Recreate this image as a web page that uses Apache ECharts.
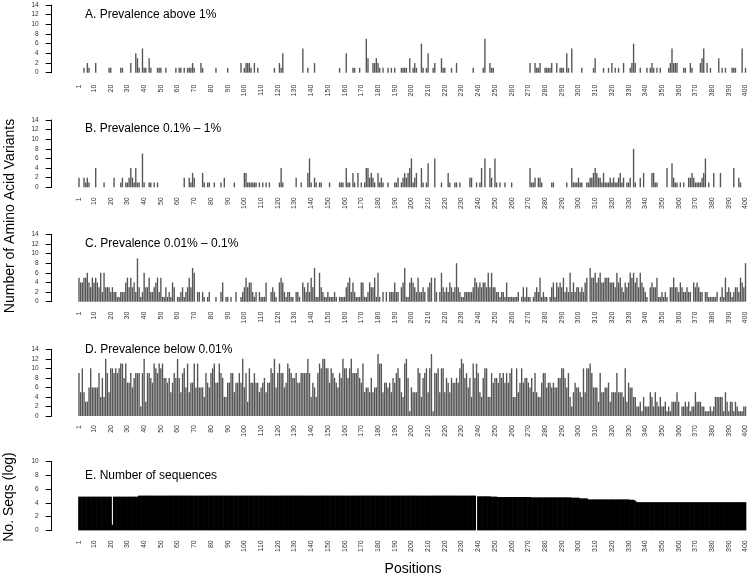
<!DOCTYPE html>
<html>
<head>
<meta charset="utf-8">
<script src="https://cdn.jsdelivr.net/npm/echarts@6/dist/echarts.min.js"></script>
<style>
  html, body { margin: 0; padding: 0; background: #fff; }
  #chart { width: 749px; height: 584px; }
</style>
</head>
<body>
<div id="chart"></div>
<script>
// positions 1..400 along the protein
const positions = Array.from({ length: 400 }, (_, i) => String(i + 1));
const xTickLabels = ['1','10','20','30','40','50','60','70','80','90','100','110','120','130','140','150','160','170','180','190','200',
  '210','220','230','240','250','260','270','280','290','300','310','320','330','340','350','360','370','380','390','400'];
const yTicksVariants = [0, 2, 4, 6, 8, 10, 12, 14];
const yTicksSeqs = [0, 2, 4, 6, 8, 10];

const panelTitles = ['A. Prevalence above 1%', 'B. Prevalence 0.1% \u2013 1%', 'C. Prevalence 0.01% \u2013 0.1%',
  'D. Prevalence below 0.01%', 'E. Number of sequences'];

// A. prevalence above 1%
const above1 = [].concat(
  [0,0,0,1,0,2,1,0,0,0,2,0,0,0,0,0,0,0,1,1],
  [0,0,0,0,0,1,1,0,0,0,0,2,0,0,4,3,1,0,5,1],
  [1,0,3,1,0,0,0,1,1,1,0,0,1,0,0,0,0,0,1,0],
  [1,1,0,1,0,1,1,1,2,1,0,0,0,2,1,0,0,0,0,0],
  [0,0,1,0,0,0,0,0,0,1,0,0,0,0,0,0,0,2,0,1],
  [2,2,2,1,0,2,0,1,0,0,0,0,0,0,0,0,0,1,0,0],
  [2,1,4,0,0,0,0,0,0,0,0,0,0,0,5,0,0,1,0,0],
  [0,2,0,0,0,0,0,0,0,0,0,0,0,0,0,0,1,0,0,0],
  [4,0,0,0,1,1,0,0,1,0,0,0,7,3,0,0,2,2,3,2],
  [1,0,1,0,0,1,0,1,0,1,0,0,0,1,1,1,1,0,3,0],
  [1,2,1,0,0,6,1,0,1,4,0,0,1,2,0,0,0,3,1,1],
  [0,0,0,1,0,0,2,0,0,0,0,0,0,0,0,0,1,0,0,0],
  [0,0,1,7,0,0,2,1,1,0,0,0,0,0,0,0,0,0,0,0],
  [0,0,0,0,0,0,0,0,0,0,2,0,0,2,1,1,2,0,0,1],
  [1,1,1,2,0,0,2,0,1,1,1,0,4,1,0,5,0,0,0,0],
  [0,1,0,0,0,0,0,0,1,3,0,0,0,0,1,0,0,1,0,2],
  [0,1,0,1,0,0,2,0,0,0,1,2,6,2,0,0,1,0,0,0],
  [1,0,1,2,1,0,1,0,1,0,0,0,0,1,2,5,2,2,2,0],
  [0,0,1,1,0,0,2,1,0,0,0,0,2,3,5,0,2,0,1,0],
  [0,0,0,3,0,1,0,1,0,0,0,1,1,1,0,0,0,5,0,1]
);

// B. prevalence 0.1% - 1%
const between01and1 = [].concat(
  [2,0,0,2,1,2,1,0,0,0,4,0,0,0,0,1,0,0,0,0],
  [0,2,0,0,0,1,2,0,1,1,2,4,2,1,4,1,1,0,7,1],
  [0,0,1,1,0,1,0,1,0,0,0,0,0,0,0,0,0,0,0,0],
  [0,0,0,2,0,0,2,1,3,2,0,0,0,0,3,1,0,1,1,0],
  [0,1,0,0,0,1,0,2,0,0,0,0,0,1,0,0,0,0,0,3],
  [3,1,1,1,1,1,1,0,1,0,1,0,1,0,1,0,0,0,0,0],
  [1,4,1,0,0,0,0,0,0,0,2,0,0,1,0,0,0,3,6,1],
  [0,2,1,0,1,1,0,0,0,0,1,0,0,0,0,0,1,1,1,0],
  [4,1,1,0,3,1,0,3,0,1,0,1,4,4,2,3,2,1,0,3],
  [1,2,1,0,0,1,0,0,0,1,1,2,0,1,2,3,2,3,4,6],
  [1,2,3,0,0,4,1,0,1,5,0,0,0,6,0,0,0,1,0,0],
  [0,3,1,0,0,1,1,0,1,0,0,0,0,0,2,2,0,0,1,0],
  [1,4,0,6,0,0,4,2,0,6,1,0,1,0,0,1,0,0,0,1],
  [0,0,0,0,0,0,0,0,0,0,4,1,1,2,0,2,2,1,0,0],
  [0,0,0,1,1,0,0,0,0,0,0,0,1,0,0,4,1,1,1,2],
  [1,1,0,0,1,1,2,2,3,4,3,2,2,1,3,1,1,1,2,1],
  [2,1,1,2,3,1,2,0,1,1,2,0,8,1,0,0,2,0,3,0],
  [0,0,0,3,3,1,1,0,0,0,0,0,4,0,0,5,2,1,1,0],
  [1,0,1,0,0,2,2,3,2,1,1,1,1,2,3,6,0,1,0,0],
  [3,0,0,0,3,0,0,0,0,0,0,0,4,0,0,2,1,0,0,0]
);

// C. prevalence 0.01% - 0.1%
const between001and01 = [].concat(
  [5,4,4,5,5,6,4,3,5,4,5,4,3,6,2,6,3,3,3,2],
  [3,2,2,1,1,2,2,2,4,5,3,5,3,4,2,9,3,1,2,6],
  [3,3,5,2,2,3,4,5,2,5,1,1,3,1,2,1,4,3,0,1],
  [1,2,3,1,2,3,5,3,7,6,0,2,2,0,2,1,0,1,2,0],
  [0,0,1,0,0,2,4,0,1,1,0,1,0,0,2,0,0,1,2,3],
  [5,3,4,4,2,1,2,0,2,1,1,1,4,0,0,2,3,2,1,0],
  [4,5,4,2,1,2,2,1,1,0,2,2,1,0,4,3,2,4,2,5],
  [3,7,1,1,6,3,2,1,1,2,1,1,1,2,1,0,1,1,1,1],
  [3,4,5,2,4,2,1,1,1,4,4,1,1,2,4,3,3,5,1,6],
  [1,0,2,0,2,0,2,2,2,4,2,2,0,3,4,7,1,1,4,5],
  [4,3,2,5,2,2,3,2,0,3,4,5,0,5,2,0,2,6,3,2],
  [3,2,4,3,2,3,8,3,2,1,1,2,2,2,2,2,3,5,4,3],
  [4,3,4,4,3,6,3,6,3,3,2,2,1,2,2,1,4,1,1,1],
  [1,1,1,2,0,1,3,1,3,1,1,0,1,2,3,2,5,1,2,1],
  [1,0,1,3,4,1,4,3,4,3,5,2,3,2,6,2,4,2,3,3],
  [2,3,2,4,5,0,7,5,5,6,4,5,6,4,4,5,5,5,4,4],
  [4,3,6,4,5,3,2,4,3,4,6,5,6,4,5,3,6,4,3,2],
  [1,0,3,4,3,3,5,1,1,2,1,2,1,0,3,3,5,3,3,2],
  [4,3,2,2,3,2,2,0,4,3,4,3,2,2,0,2,2,1,1,1],
  [1,1,2,0,1,3,1,5,2,3,2,1,2,3,3,2,5,4,3,8]
);

// D. prevalence below 0.01%
const below001 = [].concat(
  [9,5,10,5,3,3,6,10,6,6,6,6,9,4,8,4,12,9,5,10],
  [10,9,10,9,10,11,11,8,11,7,7,9,6,8,9,9,9,2,9,12],
  [3,9,9,8,7,11,10,9,11,10,11,8,8,7,8,5,7,9,8,12],
  [8,5,9,10,6,11,5,7,7,11,6,11,6,6,6,4,9,7,6,9],
  [10,11,7,7,11,9,8,4,4,7,7,9,9,5,7,7,9,7,12,6],
  [9,3,10,7,7,9,7,7,5,6,7,8,5,7,7,10,9,12,6,9],
  [11,9,9,6,7,11,10,9,8,8,9,7,7,9,9,9,9,12,9,4],
  [7,6,4,9,11,10,12,12,10,10,7,10,9,8,7,6,9,8,12,10],
  [10,8,10,12,9,9,9,10,8,7,11,5,6,6,5,8,5,6,6,13],
  [11,11,5,7,7,6,7,5,8,7,9,10,8,5,4,11,12,8,1,6],
  [5,5,5,10,9,4,8,9,10,5,10,13,1,9,9,10,5,10,10,5],
  [8,7,5,8,7,7,8,7,10,12,11,8,9,6,8,4,11,8,11,9],
  [5,4,8,10,10,4,4,9,7,8,8,7,9,8,9,7,9,7,9,10],
  [4,4,10,5,7,10,7,8,8,7,6,8,5,9,5,4,4,7,9,9],
  [6,7,7,6,7,6,6,8,8,10,10,8,6,9,4,2,5,7,6,6],
  [5,4,10,5,10,10,11,9,6,6,6,3,9,5,5,6,6,7,3,5],
  [5,5,9,5,5,5,4,10,3,7,6,6,4,4,2,2,3,1,4,2],
  [2,2,5,4,2,5,3,2,4,2,2,3,1,2,1,3,3,3,5,3],
  [0,2,2,3,2,3,1,2,2,5,3,3,3,2,2,1,1,1,2,1],
  [2,4,4,4,4,4,1,5,3,1,3,3,1,3,2,1,1,1,2,2]
);

// E. number of sequences (log)
const seqsLog = [].concat(
  [4.9,4.9,4.9,4.9,4.9,4.9,4.9,4.9,4.9,4.9,4.9,4.9,4.9,4.9,4.9,4.9,4.9,4.9,4.9,4.9],
  [0.8,4.9,4.9,4.9,4.9,4.9,4.9,4.9,4.9,4.9,4.9,4.9,4.9,4.9,4.9,4.9,5.05,5.05,5.05,5.05],
  [5.05,5.05,5.05,5.05,5.05,5.05,5.05,5.05,5.05,5.05,5.05,5.05,5.05,5.05,5.05,5.05,5.05,5.05,5.05,5.05],
  [5.05,5.05,5.05,5.05,5.05,5.05,5.05,5.05,5.05,5.05,5.05,5.05,5.05,5.05,5.05,5.05,5.05,5.05,5.05,5.05],
  [5.05,5.05,5.05,5.05,5.05,5.05,5.05,5.05,5.05,5.05,5.05,5.05,5.05,5.05,5.05,5.05,5.05,5.05,5.05,5.05],
  [5.05,5.05,5.05,5.05,5.05,5.05,5.05,5.05,5.05,5.05,5.05,5.05,5.05,5.05,5.05,5.05,5.05,5.05,5.05,5.05],
  [5.05,5.05,5.05,5.05,5.05,5.05,5.05,5.05,5.05,5.05,5.05,5.05,5.05,5.05,5.05,5.05,5.05,5.05,5.05,5.05],
  [5.05,5.05,5.05,5.05,5.05,5.05,5.05,5.05,5.05,5.05,5.05,5.05,5.05,5.05,5.05,5.05,5.05,5.05,5.05,5.05],
  [5.05,5.05,5.05,5.05,5.05,5.05,5.05,5.05,5.05,5.05,5.05,5.05,5.05,5.05,5.05,5.05,5.05,5.05,5.05,5.05],
  [5.05,5.05,5.05,5.05,5.05,5.05,5.05,5.05,5.05,5.05,5.05,5.05,5.05,5.05,5.05,5.05,5.05,5.05,5.05,5.05],
  [5.05,5.05,5.05,5.05,5.05,5.05,5.05,5.05,5.05,5.05,5.05,5.05,5.05,5.05,5.05,5.05,5.05,5.05,5.05,5.05],
  [5.05,5.05,5.05,5.05,5.05,5.05,5.05,5.05,5.05,5.05,5.05,5.05,5.05,5.05,5.05,5.05,5.05,5.05,0,4.95],
  [4.95,4.95,4.95,4.95,4.95,4.95,4.95,4.9,4.9,4.9,4.9,4.85,4.85,4.85,4.85,4.85,4.85,4.85,4.85,4.85],
  [4.85,4.85,4.85,4.85,4.85,4.85,4.85,4.85,4.85,4.85,4.85,4.8,4.8,4.8,4.8,4.8,4.8,4.8,4.8,4.8],
  [4.8,4.8,4.8,4.8,4.8,4.8,4.8,4.8,4.8,4.8,4.8,4.8,4.8,4.8,4.8,4.75,4.75,4.75,4.75,4.75],
  [4.65,4.65,4.65,4.65,4.65,4.5,4.5,4.5,4.5,4.5,4.5,4.5,4.5,4.5,4.5,4.5,4.5,4.5,4.5,4.5],
  [4.5,4.5,4.5,4.5,4.5,4.5,4.5,4.5,4.5,4.5,4.45,4.45,4.45,4.3,4.1,4.1,4.1,4.1,4.1,4.1],
  [4.1,4.1,4.1,4.1,4.1,4.1,4.1,4.1,4.1,4.1,4.1,4.1,4.1,4.1,4.1,4.1,4.1,4.1,4.1,4.1],
  [4.1,4.1,4.1,4.1,4.1,4.1,4.1,4.1,4.1,4.1,4.1,4.1,4.1,4.1,4.1,4.1,4.1,4.1,4.1,4.1],
  [4.1,4.1,4.1,4.1,4.1,4.1,4.1,4.1,4.1,4.1,4.1,4.1,4.1,4.1,4.1,4.1,4.1,4.1,4.1,4.1]
);

const FONT = '"Liberation Sans", Arial, Helvetica, sans-serif';
// panel top / bottom pixel rows
const panels = [
  { top: 5, height: 67.7, max: 14, ticks: yTicksVariants, data: above1, color: '#555555', labelMargin: 12, titleY: 15 },
  { top: 120, height: 67.3, max: 14, ticks: yTicksVariants, data: between01and1, color: '#555555', labelMargin: 10, titleY: 129 },
  { top: 234.3, height: 67.4, max: 14, ticks: yTicksVariants, data: between001and01, color: '#555555', labelMargin: 10, titleY: 244 },
  { top: 349.3, height: 66.7, max: 14, ticks: yTicksVariants, data: below001, color: '#555555', labelMargin: 9, titleY: 350 },
  { top: 461.7, height: 68.6, max: 10, ticks: yTicksSeqs, data: seqsLog, color: '#000000', labelMargin: 10, titleY: 476 }
];

let myChart = echarts.init(document.getElementById('chart'), null, { renderer: 'canvas' });

const grids = panels.map(p => ({ left: 78.16, width: 671.8, top: p.top, height: p.height }));
const xAxes = panels.map((p, i) => ({
  gridIndex: i,
  type: 'category',
  data: positions,
  axisLine: { show: false },
  axisTick: { show: false },
  axisLabel: {
    rotate: 90,
    fontSize: 7,
    fontFamily: FONT,
    color: '#333',
    margin: p.labelMargin,
    interval: (idx, val) => xTickLabels.indexOf(val) >= 0
  }
}));
const yAxes = panels.map((p, i) => ({
  gridIndex: i,
  type: 'value',
  min: 0,
  max: p.max,
  interval: 2,
  offset: 26.5,
  axisLine: { show: true, lineStyle: { color: '#000', width: 1 } },
  axisTick: { show: true, length: 6, lineStyle: { color: '#000', width: 1 } },
  axisLabel: { fontSize: 6.5, fontFamily: FONT, color: '#333', margin: 13,
    formatter: v => (p.ticks.indexOf(v) >= 0 ? String(v) : '') },
  splitLine: { show: false }
}));
const series = panels.map((p, i) => (i === 4 ? {
  type: 'bar',
  xAxisIndex: i,
  yAxisIndex: i,
  data: p.data,
  barWidth: 2.3,
  itemStyle: { color: p.color },
  silent: true
} : {
  type: 'bar',
  xAxisIndex: i,
  yAxisIndex: i,
  data: p.data,
  barCategoryGap: '18%',
  itemStyle: { color: p.color },
  silent: true
}));

const graphics = panels.map((p, i) => ({
  type: 'text',
  x: 85,
  y: p.titleY,
  style: { text: panelTitles[i], font: '12px ' + FONT, fill: '#000',
    align: 'left', verticalAlign: 'middle', textAlign: 'left', textVerticalAlign: 'middle' }
}));
graphics.push(
  { type: 'text', x: 10, y: 216, rotation: Math.PI / 2,
    style: { text: 'Number of Amino Acid Variants', font: '14px ' + FONT, fill: '#000',
      align: 'center', verticalAlign: 'middle', textAlign: 'center', textVerticalAlign: 'middle' } },
  { type: 'text', x: 9, y: 497, rotation: Math.PI / 2,
    style: { text: 'No. Seqs (log)', font: '14px ' + FONT, fill: '#000',
      align: 'center', verticalAlign: 'middle', textAlign: 'center', textVerticalAlign: 'middle' } },
  { type: 'text', x: 413, y: 569,
    style: { text: 'Positions', font: '14px ' + FONT, fill: '#000',
      align: 'center', verticalAlign: 'middle', textAlign: 'center', textVerticalAlign: 'middle' } }
);

myChart.setOption({
  animation: false,
  backgroundColor: '#fff',
  grid: grids,
  xAxis: xAxes,
  yAxis: yAxes,
  series: series,
  graphic: graphics
});
</script>
</body>
</html>
